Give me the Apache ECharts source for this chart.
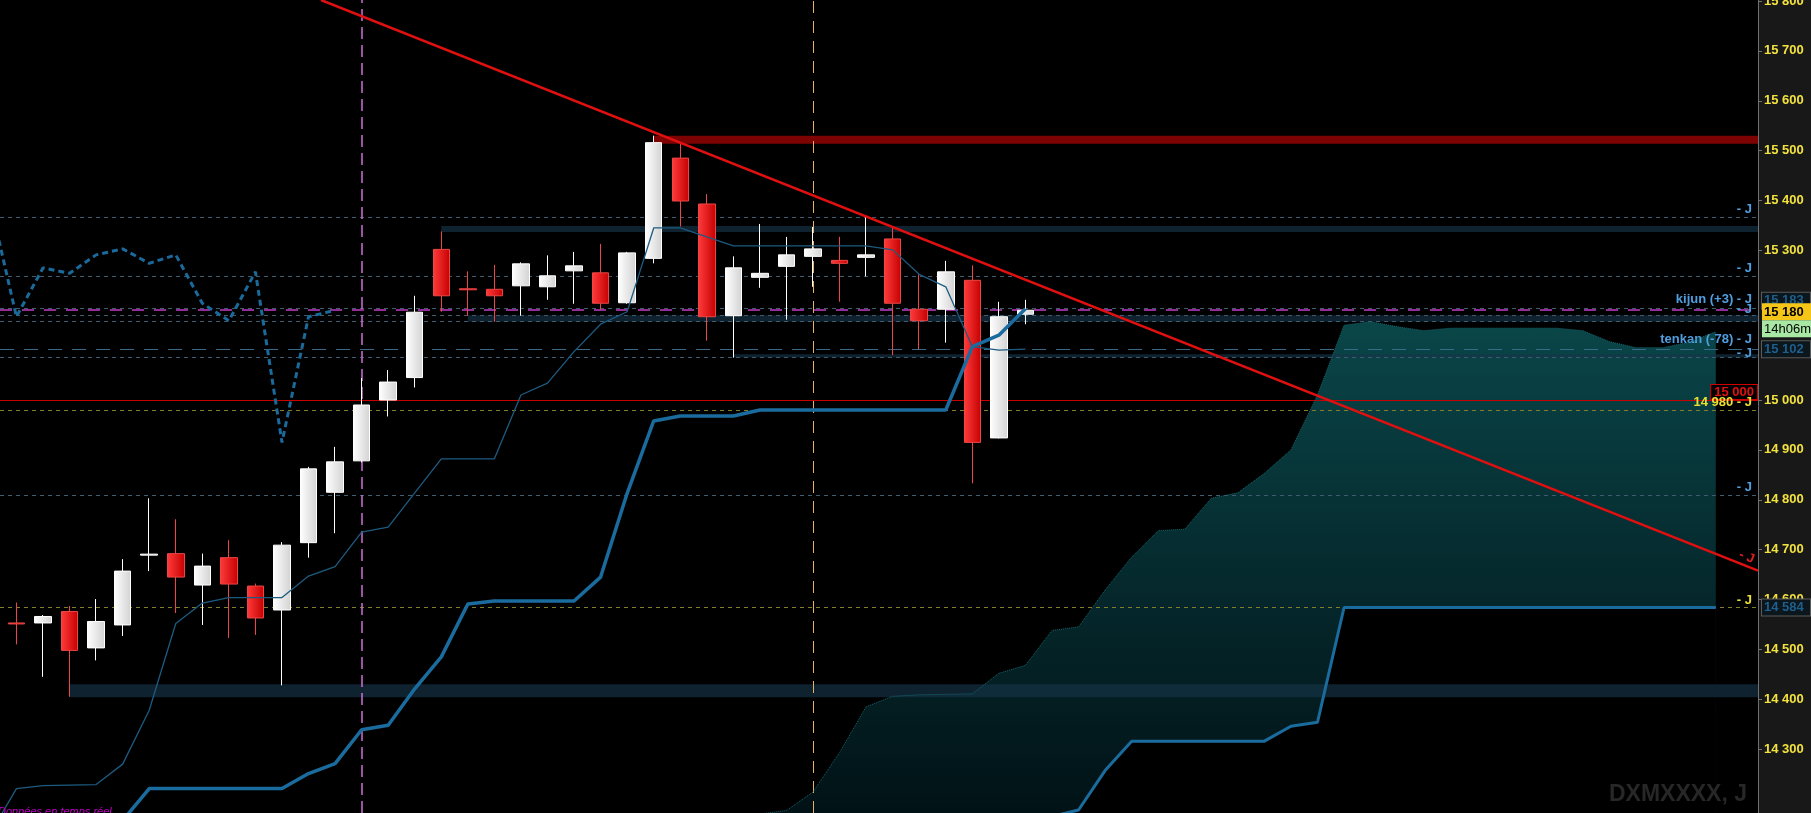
<!DOCTYPE html>
<html><head><meta charset="utf-8">
<script src="https://cdn.jsdelivr.net/npm/echarts@6/dist/echarts.min.js"></script>
<style>html,body{margin:0;padding:0;background:#181818;}#c{width:1811px;height:813px;}</style>
</head><body><div id="c"></div>
<script>
// ---- candles (index 0..38) ----
const opens  = [14553,14553,14576,14503,14549,14689,14692,14629,14684,14627,14579,14714,14815,14878,15000,15045,15302,15223,15222,15229,15227,15259,15255,15195,15284,15485,15393,15169,15246,15268,15288,15280,15286,15323,15182,15182,15240,14924,15172];
const closes = [14551,14566,14498,14556,14657,14691,14645,14667,14631,14563,14709,14862,14876,14990,15036,15176,15209,15221,15209,15273,15249,15269,15194,15295,15516,15399,15167,15265,15254,15291,15303,15274,15291,15194,15159,15257,14915,15167,15180];
const lows   = [14510,14445,14405,14478,14527,14657,14573,14549,14523,14529,14428,14684,14733,14875,14967,15025,15177,15169,15157,15169,15201,15193,15181,15193,15274,15348,15119,15085,15225,15161,15227,15197,15248,15090,15102,15115,14833,14923,15152];
const highs  = [14594,14569,14587,14601,14681,14803,14761,14692,14719,14632,14715,14866,14906,15044,15060,15209,15338,15258,15271,15276,15290,15297,15313,15297,15530,15515,15413,15288,15353,15327,15347,15327,15367,15345,15252,15279,15270,15197,15201];

// ---- ichimoku ----
const tenkanStart = -1;
const tenkan = [14130,14221,14227,14228,14229,14270,14378,14552,14593,14604,14604,14604,14647,14666,14735,14745,14814,14882,14882,14882,15010,15034,15097,15152,15177,15345,15345,15327,15309,15309,15309,15309,15309,15309,15301,15252,15227,15107,15100,15102];
const kijunStart = 4;
const kijun = [14157,14221,14221,14221,14221,14221,14221,14251,14271,14339,14348,14421,14485,14591,14597,14597,14597,14597,14645,14813,14958,14968,14968,14968,14980,14980,14980,14980,14980,14980,14980,14980,15107,15130,15183];
const chikouShift = 26;
const cloudStart = 28;
const senkouA = [14170,14177,14214,14293,14385,14406,14409,14410,14411,14452,14468,14538,14545,14619,14685,14738,14741,14803,14814,14853,14900,15010,15150,15157,15147,15139,15144,15144,15144,15144,15144,15139,15117,15105,15105,15116,15137];
const senkouB = [14120,14120,14120,14120,14120,14120,14120,14120,14120,14120,14140,14165,14178,14257,14316,14316,14316,14316,14316,14316,14346,14354,14584,14584,14584,14584,14584,14584,14584,14584,14584,14584,14584,14584,14584,14584,14584];

// ---- drawn objects ----
const trendLine = [[11.47, 15802], [65.59, 14658]];
const bandRed = [24, 15514, 15530];
const bandsDark = [[16, 15337, 15349], [17, 15157, 15170], [27, 15085, 15092], [2, 14404, 14430]];
const vLineMagenta = 13;
const vLineOrange = 30;
const tickValues = [14300,14400,14500,14600,14700,14800,14900,15000,15300,15400,15500,15600,15700,15800];
const lvl = {jA:15367, jB:15249, kijun:15183, price:15180, l1:15170, l2:15158, tenkan:15102, l3:15086, round:15000, y1:14980, jC:14810, y2:14584};

const XMIN = -0.62, XMAX = 65.59, YMIN = 14172, YMAX = 15802;
const fmt = v => String(v).replace(/\B(?=(\d{3})+(?!\d))/g, ' ');
const FONT = 'Liberation Sans, Arial, sans-serif';

const candleData = opens.map((o, i) => [i, o, closes[i], lows[i], highs[i]]);
const tenkanData = tenkan.map((v, k) => [tenkanStart + k, v]);
const kijunData = kijun.map((v, k) => [kijunStart + k, v]);
const chikouData = closes.map((c, i) => [i - chikouShift, c]).filter(p => p[0] >= -1);
const aData = senkouA.map((v, k) => [cloudStart + k, v]);
const bData = senkouB.map((v, k) => [cloudStart + k, v]);

const grayDash = {color:'#3e5b70', type:[4,4], width:1};
const oliveDash = {color:'#80802a', type:[4,4], width:1};
const noLine = {width:0, color:'rgba(0,0,0,0)', opacity:1};
const jBlue = {show:true, position:'insideEndTop', formatter:'- J', color:'#4f9fe0', fontSize:13, fontWeight:'bold', fontFamily:FONT, distance:[6,1]};
const jYellow = Object.assign({}, jBlue, {color:'#e8e030'});
const boxDark = (txt, dy) => ({show:true, opacity:1, position:'end', distance:4, offset:[0, dy || 0], formatter:txt, color:'#1f5f8c', backgroundColor:'#0c161d', borderColor:'#5a5a5a', borderWidth:1, padding:[2,2,1,2], fontSize:13, fontWeight:'bold', fontFamily:FONT, width:44});

const levelLines = [
  {yAxis:lvl.jA, lineStyle:grayDash, label:jBlue},
  {yAxis:lvl.jB, lineStyle:grayDash, label:jBlue},
  {yAxis:lvl.kijun, lineStyle:grayDash, label:Object.assign({}, jBlue, {formatter:'kijun (+3) - J', distance:[6,3]})},
  {yAxis:lvl.kijun, lineStyle:noLine, label:boxDark(fmt(lvl.kijun), -8)},
  {yAxis:lvl.price, lineStyle:{color:'#c23cc8', type:[12,10], width:1.5}, label:Object.assign({}, jBlue, {distance:[6,-6]})},
  {yAxis:lvl.l1, lineStyle:grayDash},
  {yAxis:lvl.l2, lineStyle:grayDash},
  {yAxis:lvl.tenkan, lineStyle:{color:'#3a6a88', type:[14,10], width:1}, label:Object.assign({}, jBlue, {formatter:'tenkan (-78) - J', distance:[6,3]})},
  {yAxis:lvl.tenkan, lineStyle:noLine, label:boxDark(fmt(lvl.tenkan))},
  {yAxis:lvl.l3, lineStyle:grayDash, label:Object.assign({}, jBlue, {distance:[6,-3]})},
  {yAxis:lvl.round, lineStyle:{color:'#c80000', type:'solid', width:1}, label:{show:true, position:'insideEndTop', formatter:fmt(lvl.round), color:'#e01010', backgroundColor:'#000', borderColor:'#d00000', borderWidth:1, padding:[1,3,0,3], distance:[1,1], fontSize:13, fontWeight:'bold', fontFamily:FONT}},
  {yAxis:lvl.y1, lineStyle:oliveDash, label:Object.assign({}, jYellow, {formatter:fmt(lvl.y1) + ' - J'})},
  {yAxis:lvl.jC, lineStyle:grayDash, label:jBlue},
  {yAxis:lvl.y2, lineStyle:oliveDash, label:jYellow},
  {yAxis:lvl.y2, lineStyle:noLine, label:boxDark(fmt(lvl.y2))},
  {yAxis:lvl.price, lineStyle:noLine, label:{show:true, opacity:1, position:'end', distance:4, offset:[0,10], formatter:'{a|' + fmt(lvl.price) + '}\n{b|14h06m}',
      rich:{a:{backgroundColor:'#f5c518', color:'#000', fontSize:13, fontWeight:'bold', fontFamily:FONT, padding:[2,2,1,2], width:46, height:14},
            b:{backgroundColor:'#a9e8a4', color:'#000', fontSize:13, fontFamily:FONT, padding:[2,2,1,2], width:46, height:14}}}},
  {xAxis:vLineMagenta, lineStyle:{color:'#d070d8', type:[12,6], width:1.5}},
  {xAxis:vLineOrange, lineStyle:{color:'#e8b060', type:[12,8], width:1}}
];

const bandAreas = [[{xAxis:bandRed[0], yAxis:bandRed[1], itemStyle:{color:'#7d0303'}}, {xAxis:XMAX, yAxis:bandRed[2]}]]
  .concat(bandsDark.map(b => [{xAxis:b[0], yAxis:b[1]}, {xAxis:XMAX, yAxis:b[2]}]));

const chart = echarts.init(document.getElementById('c'));
chart.setOption({
  backgroundColor:'#181818',
  animation:false,
  title:[
    {text:'DXMXXXX, J', right:64, bottom:7, padding:0, textStyle:{color:'#272727', fontSize:23, fontWeight:'bold', fontFamily:FONT}},
    {text:'Données en temps réel', left:-2, bottom:-4, padding:0, textStyle:{color:'#c400c8', fontSize:11, fontStyle:'italic', fontWeight:'normal', fontFamily:FONT}}
  ],
  grid:{left:0, right:53, top:0, bottom:0, show:true, backgroundColor:'#000000', borderWidth:0, containLabel:false, outerBoundsMode:'none'},
  xAxis:{type:'value', min:XMIN, max:XMAX, show:false},
  yAxis:{type:'value', position:'right', min:YMIN, max:YMAX, scale:true,
    splitLine:{show:false},
    axisLine:{show:true, onZero:false, lineStyle:{color:'#707070'}},
    axisTick:{show:true, length:4, customValues:tickValues, lineStyle:{color:'#707070'}},
    axisLabel:{customValues:tickValues, color:'#f2e23e', fontWeight:'bold', fontSize:13, fontFamily:FONT, margin:6, formatter:fmt}
  },
  series:[
    {name:'cloudA', type:'line', data:aData, symbol:'none', lineStyle:{width:0}, z:1, silent:true,
      areaStyle:{opacity:1, origin:'start', color:{type:'linear', x:0, y:0, x2:0, y2:1, colorStops:[{offset:0, color:'#0a4649'}, {offset:0.55, color:'#05282c'}, {offset:1, color:'#011216'}]}}},
    {name:'cloudB', type:'line', data:bData, symbol:'none', lineStyle:{width:0}, z:1, silent:true,
      areaStyle:{opacity:1, origin:'start', color:'#000000'}},
    {name:'levels', type:'line', data:[], z:3, silent:true,
      markArea:{silent:true, z:2, itemStyle:{color:'rgba(22,52,72,0.65)'}, data:bandAreas},
      markLine:{silent:true, z:3, symbol:['none','none'], animation:false, label:{show:false}, data:levelLines}},
    {name:'senkouA', type:'line', data:aData, symbol:'none', z:3, silent:true, lineStyle:{color:'#15686e', width:1, type:'dotted'}},
    {name:'senkouB', type:'line', data:bData, symbol:'none', z:3, silent:true, lineStyle:{color:'#1b6c9e', width:3}},
    {name:'price', type:'candlestick', data:candleData, barWidth:17, z:4, silent:true,
      itemStyle:{
        color:{type:'linear', x:0, y:0, x2:1, y2:0, colorStops:[{offset:0, color:'#ffffff'}, {offset:1, color:'#d2d2d2'}]},
        color0:{type:'linear', x:0, y:0, x2:1, y2:0, colorStops:[{offset:0, color:'#ff3b3b'}, {offset:1, color:'#c40000'}]},
        borderColor:'#ffffff', borderColor0:'#ee4646', borderWidth:1
      }},
    {name:'tenkan', type:'line', data:tenkanData, symbol:'none', z:5, silent:true, lineStyle:{color:'#1d5b80', width:1.3}},
    {name:'kijun', type:'line', data:kijunData, symbol:'none', z:5, silent:true, lineStyle:{color:'#1b6c9e', width:3.5}},
    {name:'chikou', type:'line', data:chikouData, symbol:'none', z:5, silent:true, lineStyle:{color:'#1a6a9c', width:3, type:[6,4]}},
    {name:'trend', type:'line', data:[], z:6, silent:true,
      markLine:{silent:true, z:6, symbol:['none','none'], animation:false,
        data:[[{coord:trendLine[0]}, {coord:trendLine[1]}]],
        lineStyle:{color:'#e01010', width:2.5, type:'solid'},
        label:{show:true, position:'insideEndTop', formatter:'- J', color:'#e02020', fontSize:13, fontWeight:'bold', fontFamily:FONT, distance:[8,2]}}}
  ]
});
</script></body></html>
